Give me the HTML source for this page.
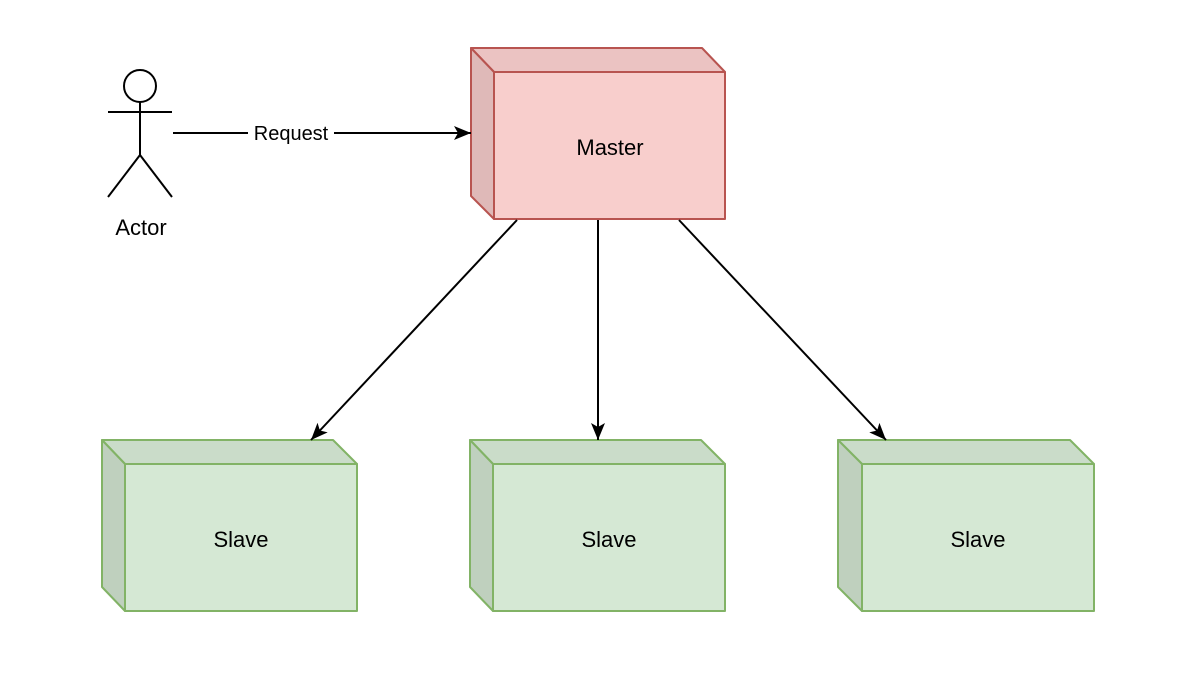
<!DOCTYPE html>
<html><head><meta charset="utf-8"><style>html,body{margin:0;padding:0;background:#fff}svg{display:block}</style></head>
<body>
<svg width="1200" height="673" viewBox="0 0 1200 673" xmlns="http://www.w3.org/2000/svg" font-family="Liberation Sans, Helvetica, Arial, sans-serif">
<defs>
<marker id="a" markerWidth="18" markerHeight="16" refX="17" refY="8" orient="auto" markerUnits="userSpaceOnUse">
<path d="M0,1 L17,8 L0,15 L4,8 Z" fill="#000"/>
</marker>
</defs>
<rect width="1200" height="673" fill="#fff"/>
<g stroke="#b85450" stroke-width="2" stroke-linejoin="round">
<rect x="494" y="72" width="231" height="147" fill="#f8cecc"/>
<polygon points="471,48 702,48 725,72 494,72" fill="#ebc3c2"/>
<polygon points="471,48 494,72 494,219 471,196" fill="#dfb9b8"/>
</g>
<text x="610" y="155" font-size="22" text-anchor="middle" fill="#000">Master</text>
<g stroke="#82b366" stroke-width="2" stroke-linejoin="round">
<rect x="125" y="464" width="232" height="147" fill="#d5e8d4"/>
<polygon points="102,440 333,440 357,464 125,464" fill="#cadcc9"/>
<polygon points="102,440 125,464 125,611 102,587" fill="#bfd0be"/>
<rect x="493" y="464" width="232" height="147" fill="#d5e8d4"/>
<polygon points="470,440 701,440 725,464 493,464" fill="#cadcc9"/>
<polygon points="470,440 493,464 493,611 470,587" fill="#bfd0be"/>
<rect x="862" y="464" width="232" height="147" fill="#d5e8d4"/>
<polygon points="838,440 1070,440 1094,464 862,464" fill="#cadcc9"/>
<polygon points="838,440 862,464 862,611 838,587" fill="#bfd0be"/>
</g>
<g font-size="22" text-anchor="middle" fill="#000">
<text x="241" y="547">Slave</text>
<text x="609" y="547">Slave</text>
<text x="978" y="547">Slave</text>
</g>
<g stroke="#000" stroke-width="2" fill="none">
<line x1="517" y1="220" x2="311" y2="440" marker-end="url(#a)"/>
<line x1="598" y1="220" x2="598" y2="440" marker-end="url(#a)"/>
<line x1="679" y1="220" x2="886" y2="440" marker-end="url(#a)"/>
<line x1="173" y1="133" x2="471" y2="133" marker-end="url(#a)"/>
</g>
<rect x="248" y="122" width="86" height="22" fill="#fff"/>
<text x="291" y="140" font-size="20" text-anchor="middle" fill="#000">Request</text>
<g stroke="#000" stroke-width="2" fill="none">
<circle cx="140" cy="86" r="16" fill="#fff"/>
<line x1="140" y1="102" x2="140" y2="155"/>
<line x1="108" y1="112" x2="172" y2="112"/>
<line x1="140" y1="155" x2="108" y2="197"/>
<line x1="140" y1="155" x2="172" y2="197"/>
</g>
<text x="141" y="235" font-size="22" text-anchor="middle" fill="#000">Actor</text>
</svg>
</body></html>
